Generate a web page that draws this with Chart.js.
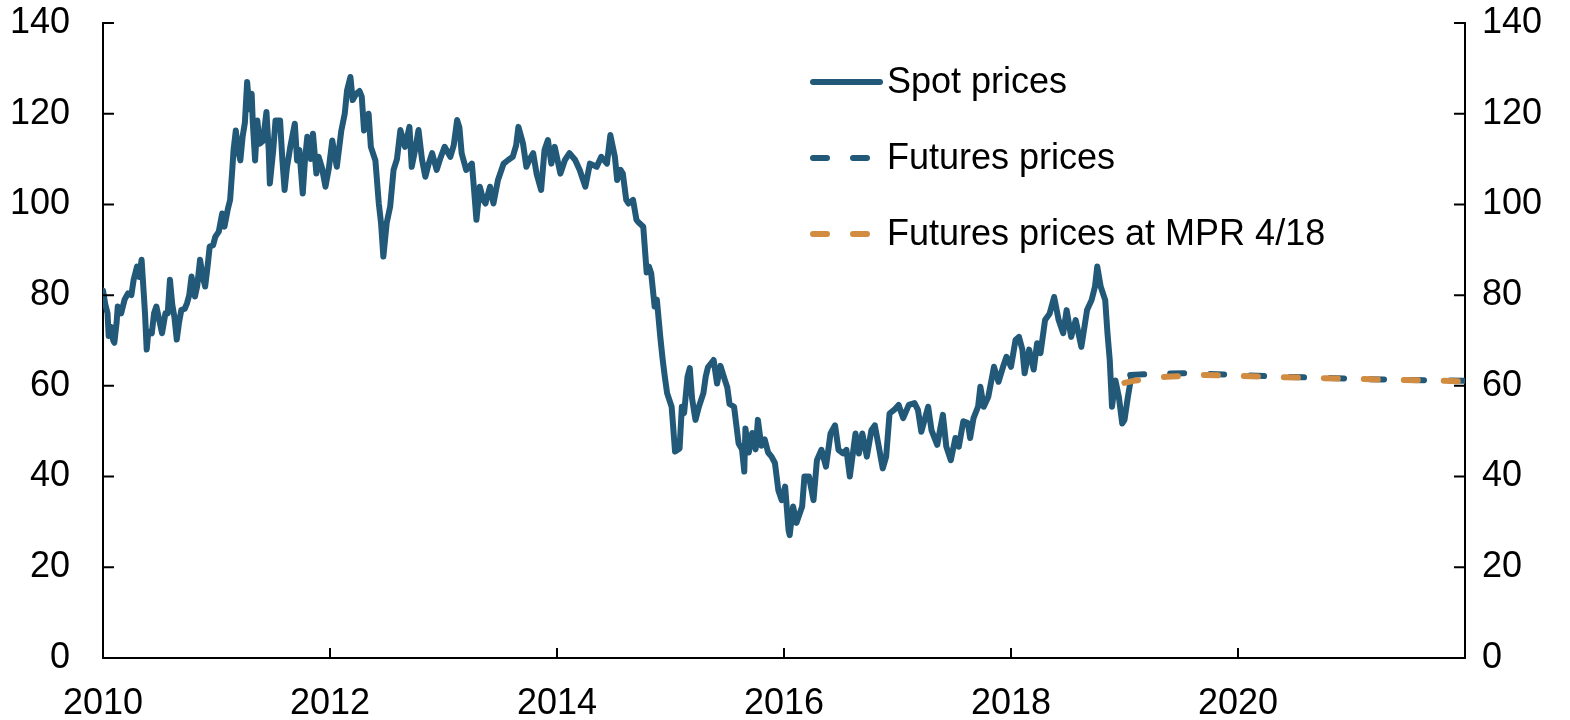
<!DOCTYPE html>
<html>
<head>
<meta charset="utf-8">
<title>Oil prices</title>
<script src="https://cdn.jsdelivr.net/npm/chart.js@4.4.1/dist/chart.umd.min.js"></script>
<style>
    html, body { margin: 0; padding: 0; background: #fff; }
    #wrap { width: 1570px; height: 720px; position: relative; }
</style>
</head>
<body>
<div id="wrap"><canvas id="oilChart"></canvas></div>
<script>
var BLUE = '#225979';
var ORANGE = '#d28c41';
var FONT = "'Liberation Sans', Arial, sans-serif";

// Spot prices (year fraction, USD per barrel)
var spotYears = [
    2010.00, 2010.02, 2010.04, 2010.05, 2010.07, 2010.09, 2010.10, 2010.12, 2010.13, 2010.16,
    2010.19, 2010.22, 2010.25, 2010.27, 2010.30, 2010.32, 2010.34, 2010.36, 2010.37, 2010.385,
    2010.40, 2010.43, 2010.45, 2010.47, 2010.50, 2010.52, 2010.55, 2010.57, 2010.59, 2010.61,
    2010.63, 2010.65, 2010.67, 2010.69, 2010.72, 2010.74, 2010.76, 2010.78, 2010.81, 2010.83,
    2010.855, 2010.88, 2010.90, 2010.92, 2010.94, 2010.97, 2010.99, 2011.02, 2011.05, 2011.07,
    2011.10, 2011.12, 2011.14, 2011.15, 2011.17, 2011.19, 2011.21, 2011.23, 2011.25, 2011.27,
    2011.29, 2011.31, 2011.32, 2011.34, 2011.36, 2011.38, 2011.41, 2011.44, 2011.46, 2011.47,
    2011.50, 2011.52, 2011.56, 2011.58, 2011.60, 2011.62, 2011.65, 2011.69, 2011.71, 2011.73,
    2011.76, 2011.78, 2011.80, 2011.83, 2011.85, 2011.88, 2011.90, 2011.93, 2011.96, 2011.99,
    2012.02, 2012.04, 2012.06, 2012.10, 2012.13, 2012.15, 2012.18, 2012.20, 2012.23, 2012.26,
    2012.28, 2012.30, 2012.34, 2012.36, 2012.40, 2012.43, 2012.45, 2012.47, 2012.50, 2012.53,
    2012.56, 2012.59, 2012.62, 2012.66, 2012.70, 2012.72, 2012.75, 2012.78, 2012.81, 2012.84,
    2012.87, 2012.90, 2012.94, 2012.97, 2013.01, 2013.06, 2013.09, 2013.12, 2013.14, 2013.16,
    2013.20, 2013.25, 2013.27, 2013.29, 2013.32, 2013.35, 2013.37, 2013.41, 2013.44, 2013.48,
    2013.53, 2013.57, 2013.61, 2013.64, 2013.66, 2013.70, 2013.73, 2013.76, 2013.79, 2013.82,
    2013.86, 2013.89, 2013.92, 2013.95, 2013.98, 2014.03, 2014.07, 2014.11, 2014.16, 2014.20,
    2014.25, 2014.29, 2014.35, 2014.39, 2014.44, 2014.47, 2014.51, 2014.53, 2014.56, 2014.58,
    2014.61, 2014.63, 2014.67, 2014.70, 2014.72, 2014.76, 2014.79, 2014.81, 2014.83, 2014.86,
    2014.88, 2014.91, 2014.93, 2014.95, 2014.97, 2015.01, 2015.04, 2015.08, 2015.10, 2015.12,
    2015.15, 2015.17, 2015.19, 2015.22, 2015.25, 2015.29, 2015.31, 2015.33, 2015.38, 2015.41,
    2015.44, 2015.48, 2015.50, 2015.52, 2015.56, 2015.60, 2015.63, 2015.65, 2015.66, 2015.69,
    2015.72, 2015.75, 2015.77, 2015.80, 2015.83, 2015.86, 2015.89, 2015.92, 2015.95, 2015.98,
    2016.01, 2016.04, 2016.05, 2016.08, 2016.11, 2016.16, 2016.18, 2016.22, 2016.26, 2016.29,
    2016.33, 2016.37, 2016.41, 2016.45, 2016.48, 2016.52, 2016.55, 2016.58, 2016.63, 2016.66,
    2016.69, 2016.73, 2016.77, 2016.80, 2016.83, 2016.87, 2016.90, 2016.93, 2016.97, 2017.01,
    2017.05, 2017.10, 2017.15, 2017.18, 2017.21, 2017.27, 2017.30, 2017.35, 2017.40, 2017.43,
    2017.47, 2017.51, 2017.54, 2017.58, 2017.62, 2017.64, 2017.67, 2017.71, 2017.73, 2017.76,
    2017.80, 2017.85, 2017.89, 2017.93, 2017.96, 2018.00, 2018.04, 2018.07, 2018.10, 2018.12,
    2018.16, 2018.20, 2018.23, 2018.26, 2018.30, 2018.34, 2018.38, 2018.42, 2018.46, 2018.49,
    2018.53, 2018.57, 2018.62, 2018.67, 2018.71, 2018.74, 2018.76, 2018.79, 2018.83, 2018.85,
    2018.87, 2018.89, 2018.92, 2018.95, 2018.98, 2019.00, 2019.03, 2019.06
];
var spotPrices = [
    81, 78, 76, 71, 73, 70, 69.5, 74, 77.5, 76,
    79, 80.4, 80, 83.4, 86.3, 84, 87.8, 80, 76, 68,
    72, 71.6, 76, 77.5, 74, 71.6, 76, 76, 83.4, 78,
    75, 70.2, 74, 76.7, 77, 78.2, 80, 84.1, 79.7, 82,
    87.8, 84, 81.9, 86, 90.7, 91, 92.9, 94, 98, 95.1,
    99, 101, 108, 111.9, 116.3, 112, 109.7, 114.9, 118, 127,
    121, 124.4, 118, 109.7, 118.5, 113.4, 114, 120.4, 112, 104.6,
    112, 118.5, 118.5, 110, 103.2, 108, 112.7, 117.8, 109.7, 112,
    102.4, 110, 114.9, 110, 115.6, 106.8, 110.5, 108, 103.9, 108,
    114.1, 111, 108.3, 116.3, 120, 125.1, 128.1, 123, 124.4, 125,
    123.7, 116.3, 120, 112.7, 109.7, 100.2, 95.8, 88.5, 96, 99.5,
    107.6, 110, 116.4, 112.7, 117.1, 108.3, 112, 116.4, 110, 106.1,
    109, 111.3, 107.6, 110, 112.7, 110.5, 113, 118.6, 117, 111.3,
    107.6, 109, 103, 96.6, 103.9, 101, 100.2, 103.9, 100.2, 105.4,
    109, 109.8, 110.5, 113, 117.1, 113.5, 108.3, 110, 111.3, 106.8,
    103.2, 112, 114.2, 109, 112.7, 106.8, 109.8, 111.3, 109.8, 107.6,
    103.9, 109, 108.3, 110.5, 109, 115.3, 110.5, 105.4, 107.6, 106.8,
    101, 100.2, 101, 96.6, 96, 95.1, 85, 86.3, 84.8, 77.5,
    79, 70.8, 66, 62, 58.4, 55.4, 45.5, 46.2, 55.4, 54,
    62, 63.9, 57.2, 52.5, 55.4, 58.4, 62, 64.1, 65.7, 60.5,
    64.4, 61.2, 59.7, 56, 55.4, 47.3, 46, 41.1, 50.6, 45.3,
    49.6, 46, 52.5, 46.8, 48.2, 45.3, 44.4, 43, 37, 34.8,
    37.8, 28.2, 27.1, 33.4, 29.8, 33.4, 40, 40, 34.8, 43.6,
    45.9, 42.2, 49.5, 51.3, 45.9, 45.1, 45.9, 40, 49.5, 45.1,
    49.5, 44.4, 50.2, 51.3, 47.3, 41.8, 44.4, 53.9, 54.7, 55.8,
    52.9, 55.8, 56.2, 54.7, 49.9, 55.4, 50.2, 47, 53.6, 46.6,
    43.6, 48.5, 46.6, 52.2, 51.8, 48.5, 52.9, 55.4, 59.8, 55.4,
    57.6, 64.2, 60.9, 64.2, 66.4, 64.2, 70.1, 70.8, 68, 62.8,
    68, 63.6, 69.4, 67.2, 74.5, 75.9, 79.6, 74.5, 71.6, 76.7,
    70.8, 74.5, 68.6, 76.7, 78.9, 81.9, 86.3, 81.9, 78.9, 71.6,
    65.7, 55.4, 61.2, 57.6, 51.7, 52.5, 57.6, 62
];

// Futures curve now
var futYears = [2019.05, 2019.30, 2019.52, 2020.00, 2020.40, 2021.00, 2021.28, 2022.00];
var futPrices = [62.4, 62.7, 62.8, 62.4, 62.0, 61.6, 61.4, 61.1];

// Futures curve at MPR 4/18
var mprYears = [2018.93, 2019.10, 2019.37, 2019.70, 2020.40, 2021.28, 2022.00];
var mprPrices = [60.3, 61.2, 62.0, 62.4, 61.9, 61.4, 61.0];

var xTicks = [2010, 2012, 2014, 2016, 2018, 2020, 2022];
var yTicks = [0, 20, 40, 60, 80, 100, 120, 140];

function toPoints(xs, ys) {
    return xs.map(function (x, i) { return { x: x, y: ys[i] }; });
}

// small ticks pointing into the plot, like the original
var innerTicks = {
    id: 'innerTicks',
    afterDraw: function (chart) {
        var ctx = chart.ctx;
        var a = chart.chartArea;
        ctx.save();
        ctx.strokeStyle = '#000';
        ctx.lineWidth = 2;
        ctx.beginPath();
        xTicks.forEach(function (v) {
            var px = chart.scales.x.getPixelForValue(v);
            ctx.moveTo(px, a.bottom);
            ctx.lineTo(px, a.bottom - 10);
        });
        yTicks.forEach(function (v) {
            var py = chart.scales.y.getPixelForValue(v);
            ctx.moveTo(a.left, py);
            ctx.lineTo(a.left + 11, py);
            var py2 = chart.scales.y2.getPixelForValue(v);
            ctx.moveTo(a.right, py2);
            ctx.lineTo(a.right - 11, py2);
        });
        ctx.stroke();
        ctx.restore();
    }
};

// legend sitting inside the plot area
var insideLegend = {
    id: 'insideLegend',
    afterDraw: function (chart) {
        var ctx = chart.ctx;
        ctx.save();
        [0, 1, 2].forEach(function (i) {
            var ds = chart.data.datasets[i];
            var y = 82 + i * 76;
            ctx.strokeStyle = ds.borderColor;
            ctx.lineWidth = ds.borderWidth;
            ctx.lineCap = 'round';
            ctx.setLineDash(ds.borderDash || []);
            ctx.beginPath();
            ctx.moveTo(813, y);
            ctx.lineTo(ds.borderDash ? 872 : 880, y);
            ctx.stroke();
            ctx.setLineDash([]);
            ctx.fillStyle = '#000';
            ctx.font = '36px ' + FONT;
            ctx.textBaseline = 'middle';
            ctx.textAlign = 'left';
            ctx.fillText(ds.label, 887, y + 1);
        });
        ctx.restore();
    }
};

function yAxis(pos, pad, w) {
    return {
        type: 'linear',
        position: pos,
        min: 0,
        max: 140,
        afterFit: function (s) {
            s.width = w;
            s.paddingTop = 0;
            s.paddingBottom = 0;
        },
        afterBuildTicks: function (s) { s.ticks = yTicks.map(function (v) { return { value: v }; }); },
        grid: { drawOnChartArea: false, drawTicks: false },
        border: { display: true, color: '#000', width: 2 },
        ticks: {
            padding: pad,
            color: '#000',
            font: { family: FONT, size: 36 },
            callback: function (v) { return String(v); }
        }
    };
}

var ctx = document.getElementById('oilChart').getContext('2d');
new Chart(ctx, {
    type: 'line',
    data: {
        datasets: [
            {
                label: 'Spot prices',
                data: toPoints(spotYears, spotPrices),
                borderColor: BLUE,
                borderWidth: 6,
                order: 3
            },
            {
                label: 'Futures prices',
                data: toPoints(futYears, futPrices),
                borderColor: BLUE,
                borderWidth: 6,
                borderDash: [14, 26],
                order: 2
            },
            {
                label: 'Futures prices at MPR 4/18',
                data: toPoints(mprYears, mprPrices),
                borderColor: ORANGE,
                borderWidth: 6,
                borderDash: [14, 26],
                borderDashOffset: -8,
                order: 1
            }
        ]
    },
    options: {
        responsive: true,
        maintainAspectRatio: false,
        animation: false,
        layout: { padding: { top: 23, right: 0, left: 0, bottom: 0 } },
        elements: {
            point: { radius: 0 },
            line: { tension: 0, borderCapStyle: 'round', borderJoinStyle: 'round', fill: false }
        },
        plugins: {
            legend: { display: false },
            tooltip: { enabled: false }
        },
        scales: {
            x: {
                type: 'linear',
                min: 2010,
                max: 2022,
                afterFit: function (s) {
                    s.height = 62;
                    s.paddingLeft = 0;
                    s.paddingRight = 0;
                },
                afterBuildTicks: function (s) { s.ticks = xTicks.map(function (v) { return { value: v }; }); },
                grid: { drawOnChartArea: false, drawTicks: false },
                border: { display: true, color: '#000', width: 2 },
                ticks: {
                    padding: 24,
                    maxRotation: 0,
                    color: '#000',
                    font: { family: FONT, size: 36 },
                    callback: function (v) { return v === 2022 ? '' : String(v); }
                }
            },
            y: yAxis('left', 33, 103),
            y2: yAxis('right', 17, 105)
        }
    },
    plugins: [innerTicks, insideLegend]
});
</script>
</body>
</html>
